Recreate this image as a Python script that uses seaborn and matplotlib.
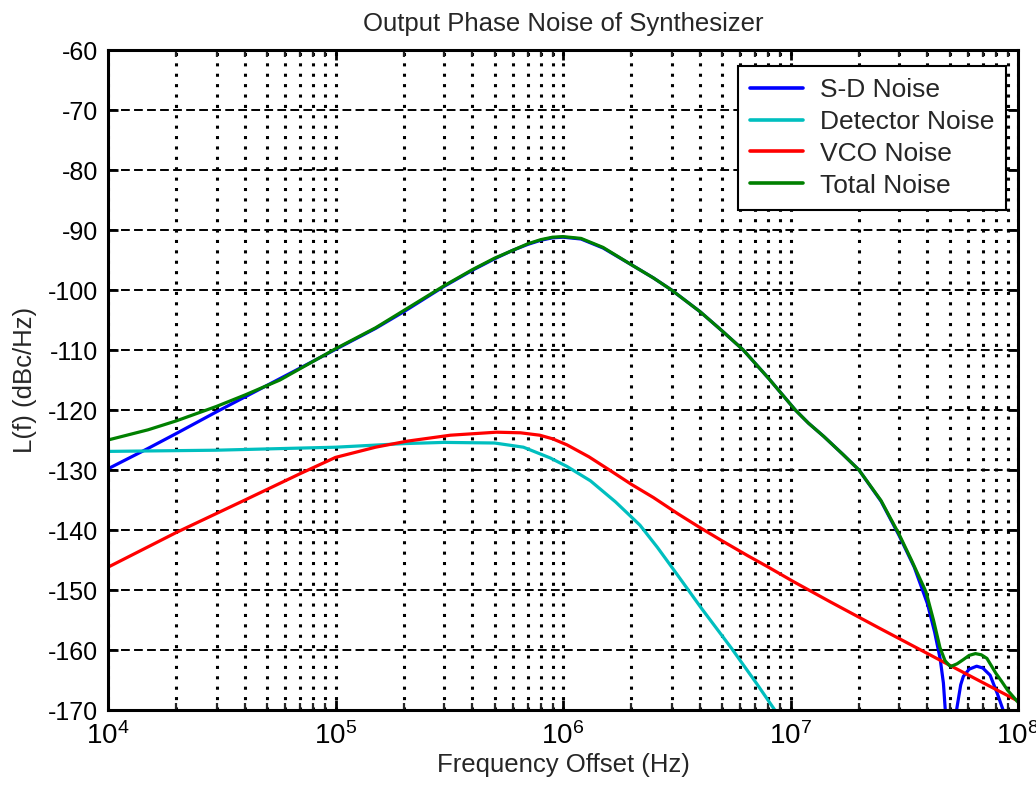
import numpy as np
import pandas as pd
import matplotlib
matplotlib.use("Agg")
import matplotlib.pyplot as plt
from matplotlib.ticker import LogLocator, FixedLocator, NullFormatter, FuncFormatter
import seaborn as sns

# ---- noise contributions (offset frequency in Hz, level in dBc/Hz) ----
sd_freq = [1e4, 1.5e4, 2e4, 3e4, 5e4, 7e4, 1e5, 1.5e5, 2e5, 3e5, 4e5, 5e5, 6e5, 7e5,
           8e5, 9e5, 1e6, 1.2e6, 1.5e6, 2e6, 2.5e6, 3e6, 4e6, 5e6, 6.2e6, 8e6, 1.05e7,
           1.2e7, 1.4e7, 1.7e7, 2e7, 2.5e7, 3e7, 3.5e7, 4e7, 4.3e7, 4.55e7, 4.7e7, 4.8e7,
           4.95e7, 5.05e7, 5.2e7, 5.37e7, 5.6e7, 5.75e7, 6.1e7, 6.58e7, 7e7, 7.54e7,
           8.1e7, 8.6e7, 9.2e7, 1e8]
sd_db = [-129.8, -126.4, -123.9, -120.3, -115.9, -113.0, -109.9, -106.4, -103.6, -99.4,
         -96.7, -94.8, -93.4, -92.4, -91.7, -91.3, -91.2, -91.5, -93.0, -95.8, -98.0,
         -100.0, -103.6, -106.8, -110.0, -114.7, -120.0, -122.2, -124.4, -127.4, -130.0,
         -135.2, -140.9, -146.2, -152.3, -157.0, -161.5, -165.5, -170.5, -180.0, -200.0,
         -180.0, -170.0, -165.8, -164.4, -163.2, -162.7, -163.0, -164.2, -167.2, -170.0,
         -176.0, -190.0]

det_freq = [1e4, 3e4, 1e5, 2e5, 3e5, 5e5, 6.7e5, 8.8e5, 1.04e6, 1.32e6, 1.7e6, 2.18e6,
            2.6e6, 3.2e6, 4.07e6, 5.5e6, 7.1e6, 8.6e6, 1e7]
det_db = [-126.9, -126.7, -126.2, -125.6, -125.4, -125.5, -126.2, -128.0, -129.4, -131.8,
          -135.3, -139.2, -142.9, -147.6, -153.1, -159.7, -165.6, -170.2, -174.0]

vco_freq = [1e4, 2e4, 4e4, 7e4, 1e5, 1.5e5, 2.06e5, 3.2e5, 5.1e5, 6.5e5, 7.9e5, 9e5,
            1.04e6, 1.3e6, 1.6e6, 2e6, 2.5e6, 3.2e6, 4e6, 5e6, 6.5e6, 8e6, 1.03e7,
            1.5e7, 2.47e7, 5.1e7, 1e8]
vco_db = [-146.2, -140.4, -135.0, -130.6, -127.9, -126.2, -125.2, -124.2, -123.7, -123.8,
          -124.2, -124.8, -125.8, -127.8, -130.0, -132.4, -134.6, -137.3, -139.6, -141.8,
          -144.3, -146.2, -148.6, -152.0, -156.4, -162.7, -168.5]

tot_freq = [1e4, 1.5e4, 2e4, 3e4, 4e4, 5.7e4, 7e4, 1e5, 1.5e5, 2e5, 3e5, 4e5, 5e5, 6e5,
            7e5, 8e5, 9e5, 1e6, 1.2e6, 1.5e6, 2e6, 2.5e6, 3e6, 4e6, 5e6, 6.2e6, 8e6,
            1.05e7, 1.2e7, 1.4e7, 1.7e7, 2e7, 2.5e7, 3e7, 3.4e7, 3.94e7, 4.25e7, 4.54e7,
            4.78e7, 5e7, 5.1e7, 5.4e7, 5.75e7, 6.1e7, 6.5e7, 6.9e7, 7.3e7, 8e7, 8.5e7,
            9e7, 1e8]
tot_db = [-125.0, -123.3, -121.8, -119.4, -117.5, -115.0, -113.1, -109.8, -106.3, -103.4,
          -99.3, -96.6, -94.7, -93.4, -92.3, -91.6, -91.2, -91.1, -91.4, -92.9, -95.8,
          -98.0, -100.0, -103.6, -106.8, -110.0, -114.7, -120.0, -122.2, -124.4, -127.4,
          -130.0, -135.1, -140.7, -145.0, -150.3, -155.0, -159.6, -161.8, -162.6, -162.7,
          -162.3, -161.6, -160.9, -160.6, -160.8, -161.4, -163.9, -165.3, -166.7, -168.7]

series_names = ["S-D Noise", "Detector Noise", "VCO Noise", "Total Noise"]
series_colors = ["#0000ff", "#00bfbf", "#ff0000", "#008000"]

x_ticks = [1e4, 1e5, 1e6, 1e7, 1e8]
y_ticks = list(range(-170, -59, 10))

frames = []
for name, f, v in zip(series_names,
                      [sd_freq, det_freq, vco_freq, tot_freq],
                      [sd_db, det_db, vco_db, tot_db]):
    frames.append(pd.DataFrame({"freq": f, "level": v, "source": name}))
df = pd.concat(frames, ignore_index=True)

sns.set_style("ticks")
plt.rcParams["font.family"] = ["Liberation Sans", "DejaVu Sans"]
plt.rcParams["mathtext.default"] = "regular"
plt.rcParams["axes.unicode_minus"] = False

fig = plt.figure(figsize=(10.36, 7.9), dpi=100)
ax = fig.add_axes([108 / 1036, 1 - 710 / 790, 910 / 1036, 660 / 790])

sns.lineplot(data=df, x="freq", y="level", hue="source", hue_order=series_names,
             palette=series_colors, estimator=None, sort=False, linewidth=2.3,
             ax=ax, legend=True)

ax.set_xscale("log")
ax.set_xlim(1e4, 1e8)
ax.set_ylim(-170, -60)
ax.xaxis.set_major_locator(FixedLocator(x_ticks))
ax.xaxis.set_minor_locator(LogLocator(base=10, subs=np.arange(2, 10), numticks=20))
ax.xaxis.set_minor_formatter(NullFormatter())
ax.xaxis.set_major_formatter(FuncFormatter(lambda v, p: r"$10^{%d}$" % round(np.log10(v))))
ax.set_yticks(y_ticks)

# MATLAB-like grid: dotted verticals, dashed horizontals
ax.set_axisbelow(True)
ax.grid(which="both", axis="x", color="black", linewidth=2.2, linestyle=(0, (1.0, 2.4)))
ax.grid(which="major", axis="y", color="black", linewidth=1.4, linestyle=(0, (4.5, 2.2)))

for s in ax.spines.values():
    s.set_visible(True)
    s.set_linewidth(2.2)
    s.set_color("black")

ax.tick_params(which="major", direction="in", length=7, width=2, top=True, right=True,
               labelsize=18, colors="black")
ax.tick_params(which="minor", direction="in", length=5, width=1.6, top=True, right=True)
ax.tick_params(axis="y", pad=7)
ax.tick_params(axis="x", pad=9, labelsize=20)

ax.set_xlabel("Frequency Offset (Hz)", fontsize=18.5, labelpad=2)
ax.set_ylabel("L(f) (dBc/Hz)", fontsize=18.5, labelpad=8)
ax.set_title("Output Phase Noise of Synthesizer", fontsize=18.5, pad=14)

leg = ax.legend(loc="upper right", bbox_to_anchor=((1006 - 108) / 910, (710 - 66) / 660),
                borderaxespad=0, fontsize=19, frameon=True, fancybox=False,
                edgecolor="black", framealpha=1, handlelength=2.0, handletextpad=0.65,
                labelspacing=0.3, borderpad=0.45)
leg.get_frame().set_linewidth(1.5)
for line in leg.get_lines():
    line.set_linewidth(2.6)

fig.savefig("out.png", dpi=100, facecolor="white")
